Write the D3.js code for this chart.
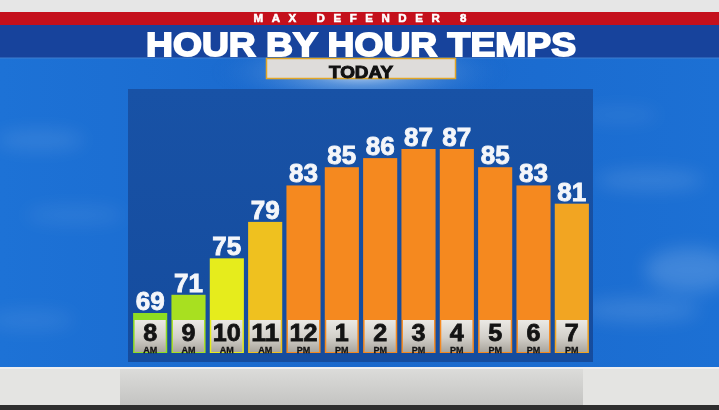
<!DOCTYPE html>
<html><head><meta charset="utf-8">
<script src="https://cdn.jsdelivr.net/npm/d3@7"></script>
<style>html,body{margin:0;padding:0;background:#000;overflow:hidden}svg{display:block}</style>
</head><body>
<script>
const hours = ["8","9","10","11","12","1","2","3","4","5","6","7"];
const periods = ["AM","AM","AM","AM","PM","PM","PM","PM","PM","PM","PM","PM"];
const temps = [69,71,75,79,83,85,86,87,87,85,83,81];
const brandText = "MAX DEFENDER 8";
const titleText = "HOUR BY HOUR TEMPS";
const subtitleText = "TODAY";

const W = 719, H = 410;
const FONT = "'Liberation Sans', Arial, Helvetica, sans-serif";
const NARROW = "'Liberation Sans Narrow', 'Arial Narrow', 'Liberation Sans', sans-serif";
const svg = d3.select("body").append("svg").attr("width", W).attr("height", H);
const defs = svg.append("defs");

// gradients
const bg = defs.append("linearGradient").attr("id","bg").attr("x1",0).attr("y1",0).attr("x2",1).attr("y2",0);
bg.append("stop").attr("offset","0%").attr("stop-color","#1d72d6");
bg.append("stop").attr("offset","50%").attr("stop-color","#1a68cc");
bg.append("stop").attr("offset","100%").attr("stop-color","#1c70d4");
const glow = defs.append("radialGradient").attr("id","glow").attr("cx","50%").attr("cy","50%").attr("r","50%");
glow.append("stop").attr("offset","0%").attr("stop-color","#e8f0fa").attr("stop-opacity",0.9);
glow.append("stop").attr("offset","35%").attr("stop-color","#8ab4e6").attr("stop-opacity",0.55);
glow.append("stop").attr("offset","100%").attr("stop-color","#1a68cc").attr("stop-opacity",0);
const panelG = defs.append("linearGradient").attr("id","panel").attr("x1",0).attr("y1",0).attr("x2",0).attr("y2",1);
panelG.append("stop").attr("offset","0%").attr("stop-color","#1852a6");
panelG.append("stop").attr("offset","100%").attr("stop-color","#154c9e");
const boxG = defs.append("linearGradient").attr("id","box").attr("x1",0).attr("y1",0).attr("x2",0).attr("y2",1);
boxG.append("stop").attr("offset","0%").attr("stop-color","#ebe9e5");
boxG.append("stop").attr("offset","55%").attr("stop-color","#d2cfc9");
boxG.append("stop").attr("offset","100%").attr("stop-color","#a9a59d");
const grayG = defs.append("linearGradient").attr("id","gray").attr("x1",0).attr("y1",0).attr("x2",0).attr("y2",1);
grayG.append("stop").attr("offset","0%").attr("stop-color","#dcdcda");
grayG.append("stop").attr("offset","100%").attr("stop-color","#c4c4c2");
const blur = defs.append("filter").attr("id","blur").attr("x","-50%").attr("y","-50%").attr("width","200%").attr("height","200%");
blur.append("feGaussianBlur").attr("stdDeviation",9);

// background
svg.append("rect").attr("width",W).attr("height",H).attr("fill","url(#bg)");
// soft clouds
const clouds = svg.append("g").attr("filter","url(#blur)").attr("fill","#ffffff");
[[40,140,45,10,0.10],[75,215,50,9,0.08],[650,180,55,10,0.12],[690,270,45,22,0.16],[640,310,60,12,0.12],[30,320,45,10,0.08],[620,115,40,8,0.07]]
  .forEach(c => clouds.append("ellipse").attr("cx",c[0]).attr("cy",c[1]).attr("rx",c[2]).attr("ry",c[3]).attr("opacity",c[4]));
svg.append("ellipse").attr("cx",360).attr("cy",72).attr("rx",150).attr("ry",40).attr("fill","url(#glow)");

// top bands
svg.append("rect").attr("x",0).attr("y",0).attr("width",W).attr("height",12).attr("fill","#e6e6e6");
svg.append("rect").attr("x",0).attr("y",12).attr("width",W).attr("height",13).attr("fill","#c4101c");
svg.append("rect").attr("x",0).attr("y",25).attr("width",W).attr("height",33).attr("fill","#17439c");
svg.append("line").attr("x1",0).attr("x2",W).attr("y1",58).attr("y2",58).attr("stroke","#3f7fd0").attr("stroke-width",1);

svg.append("text").attr("x",360).attr("y",22).attr("text-anchor","middle")
  .attr("font-family",FONT).attr("font-weight","bold").attr("font-size",11.5)
  .attr("fill","#ffffff").attr("stroke","#ffffff").attr("stroke-width",0.6)
  .attr("textLength",213).attr("lengthAdjust","spacing").text(brandText);
svg.append("text").attr("x",361).attr("y",55.5).attr("text-anchor","middle")
  .attr("font-family",NARROW).attr("font-weight","bold").attr("font-size",34)
  .attr("fill","#ffffff").attr("stroke","#ffffff").attr("stroke-width",1.8)
  .attr("textLength",430).attr("lengthAdjust","spacingAndGlyphs").text(titleText);

// TODAY box
svg.append("rect").attr("x",266.5).attr("y",58.5).attr("width",189).attr("height",20)
  .attr("fill","#dedcda").attr("stroke","#e2a626").attr("stroke-width",1.5);
svg.append("text").attr("x",361).attr("y",77.5).attr("text-anchor","middle")
  .attr("font-family",NARROW).attr("font-weight","bold").attr("font-size",17)
  .attr("fill","#111").attr("stroke","#111").attr("stroke-width",1)
  .attr("textLength",64).attr("lengthAdjust","spacingAndGlyphs").text(subtitleText);

// bottom bands
svg.append("rect").attr("x",0).attr("y",368).attr("width",W).attr("height",37).attr("fill","#e4e4e2");
svg.append("rect").attr("x",120).attr("y",368).attr("width",463).attr("height",37).attr("fill","url(#gray)");
svg.append("rect").attr("x",0).attr("y",367).attr("width",W).attr("height",2).attr("fill","#eeeef0");
svg.append("rect").attr("x",0).attr("y",405).attr("width",W).attr("height",5).attr("fill","#2e2e2e");

// chart panel
svg.append("rect").attr("x",128).attr("y",89).attr("width",465).attr("height",273).attr("fill","url(#panel)");

const x = d3.scaleBand().domain(hours).range([131, 591]).paddingInner(0.11).paddingOuter(0.055);
const y = d3.scaleLinear().domain([69, 87]).range([313, 149]);
const yBase = 353;
const color = d3.scaleThreshold().domain([70, 73, 77, 81, 83])
  .range(["#8ede22", "#a8e020", "#e6ec1c", "#efc11f", "#f2a522", "#f5891f"]);

const data = hours.map((h, i) => ({h, p: periods[i], t: temps[i]}));
const g = svg.append("g");
const bars = g.selectAll("g.bar").data(data).join("g").attr("class","bar");

bars.append("rect").attr("x", d => x(d.h)).attr("y", d => y(d.t))
  .attr("width", x.bandwidth()).attr("height", d => yBase - y(d.t)).attr("fill", d => color(d.t));
bars.append("rect").attr("x", d => x(d.h) + 1.5).attr("y", 320)
  .attr("width", x.bandwidth() - 3).attr("height", yBase - 320 - 1).attr("fill","url(#box)");
bars.append("text").attr("x", d => x(d.h) + x.bandwidth()/2).attr("y", d => y(d.t) - 3)
  .attr("text-anchor","middle").attr("font-family",FONT).attr("font-weight","bold")
  .attr("font-size",26).attr("fill","#f4f6fa").attr("stroke","#f4f6fa").attr("stroke-width",0.9)
  .text(d => d.t);
bars.append("text").attr("x", d => x(d.h) + x.bandwidth()/2).attr("y", 341)
  .attr("text-anchor","middle").attr("font-family",FONT).attr("font-weight","bold")
  .attr("font-size",24).attr("fill","#141414").attr("stroke","#141414").attr("stroke-width",0.8)
  .attr("textLength", d => d.h.length > 1 ? 28 : 14).attr("lengthAdjust","spacingAndGlyphs")
  .text(d => d.h);
bars.append("text").attr("x", d => x(d.h) + x.bandwidth()/2).attr("y", 352.5)
  .attr("text-anchor","middle").attr("font-family",FONT).attr("font-weight","bold")
  .attr("font-size",9).attr("fill","#141414").attr("stroke","#141414").attr("stroke-width",0.3)
  .text(d => d.p);
</script>
</body></html>
